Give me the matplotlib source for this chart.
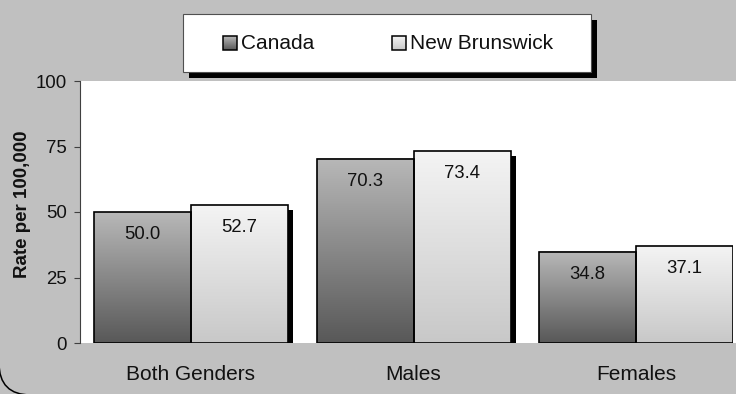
import numpy as np
import matplotlib.pyplot as plt
from matplotlib.colors import LinearSegmentedColormap
from matplotlib.patches import Rectangle, FancyBboxPatch

plt.rcParams['font.family'] = ['Liberation Sans', 'DejaVu Sans']

# data
categories = ['Both Genders', 'Males', 'Females']
series_names = ['Canada', 'New Brunswick']
canada = [50.0, 70.3, 34.8]
new_brunswick = [52.7, 73.4, 37.1]
y_ticks = [0, 25, 50, 75, 100]
title = 'Rates by Gender, Canada and New Brunswick (2005)'

W, H = 736, 394
BG = '#c0c0c0'

# vertical gradients, bottom colour -> top colour
cmaps = [
    LinearSegmentedColormap.from_list('dark', ['#585858', '#b8b8b8']),
    LinearSegmentedColormap.from_list('light', ['#c8c8c8', '#f4f4f4']),
]
grad = np.linspace(0, 1, 256).reshape(-1, 1)

fig = plt.figure(figsize=(W / 100, H / 100), dpi=100, facecolor=BG)


def px_box(x0, y0, x1, y1):
    # pixel box (top-left origin) -> figure fraction rect
    return [x0 / W, 1 - y1 / H, (x1 - x0) / W, (y1 - y0) / H]


# white plot background reaching the right edge
fig.add_artist(Rectangle((80 / W, 1 - 343 / H), 1, 262 / H,
                         transform=fig.transFigure, facecolor='white',
                         edgecolor='none', zorder=-1))

ax = fig.add_axes(px_box(80, 81, 733, 343))
ax.set_facecolor('white')

slot = 222.5
x = np.arange(len(categories))
bw = 97 / slot
dx_shadow = 5 / slot
dy_shadow = 5 / 262 * 100

groups = [canada, new_brunswick]
offsets = [-bw / 2, bw / 2]

# shadows first
for vals, off in zip(groups, offsets):
    for xi, v in zip(x, vals):
        ax.add_patch(Rectangle((xi + off - bw / 2 + dx_shadow, 0), bw, v - dy_shadow,
                               facecolor='black', edgecolor='none', zorder=1))

for vals, off, cm in zip(groups, offsets, cmaps):
    for xi, v in zip(x, vals):
        x0 = xi + off - bw / 2
        ax.imshow(grad, cmap=cm, origin='lower', aspect='auto',
                  extent=[x0, x0 + bw, 0, v], zorder=2, interpolation='bilinear')
        ax.add_patch(Rectangle((x0, 0), bw, v, facecolor='none',
                               edgecolor='black', linewidth=1.2, zorder=3))
        ax.annotate(f'{v:.1f}', (xi + off, v), xytext=(0, -16.5),
                    textcoords='offset points', ha='center', va='center',
                    fontsize=13.3, color='#111111', zorder=4)

ax.set_xlim((80 - 191) / slot, (733 - 191) / slot)
ax.set_ylim(0, 100)

for s in ['top', 'right', 'bottom']:
    ax.spines[s].set_visible(False)
ax.spines['left'].set_color('#404040')
ax.spines['left'].set_linewidth(0.8)

ax.set_yticks(y_ticks)
ax.tick_params(axis='y', direction='out', length=4.3, width=0.8,
               color='#404040', pad=5, labelsize=13.4, labelcolor='#111111')
ax.set_xticks(x)
ax.set_xticklabels(categories)
ax.tick_params(axis='x', length=0, pad=16, labelsize=15, labelcolor='#111111')

fig.text(23 / W, 1 - 204.5 / H, 'Rate per 100,000', rotation=90,
         ha='center', va='center', fontsize=13.5, fontweight='bold',
         color='#111111')

# overlay in pixel coordinates for legend, title and frame
ov = fig.add_axes([0, 0, 1, 1], zorder=5)
ov.set_xlim(0, W)
ov.set_ylim(H, 0)
ov.axis('off')
ov.patch.set_alpha(0)

ov.text(92, -4, title, ha='left', va='baseline', fontsize=15,
        fontweight='bold', color='#111111')

# legend box with drop shadow
ov.add_patch(Rectangle((189, 20), 408, 58, facecolor='black', edgecolor='none'))
ov.add_patch(Rectangle((183, 14), 408, 58, facecolor='white',
                       edgecolor='#505050', linewidth=0.8))
legend_x = [223, 392]
for lx, name, cm in zip(legend_x, series_names, cmaps):
    ov.imshow(grad, cmap=cm, origin='lower', aspect='auto',
              extent=[lx, lx + 14, 50, 36], zorder=6)
    ov.add_patch(Rectangle((lx, 36), 14, 14, facecolor='none',
                           edgecolor='black', linewidth=1.1, zorder=7))
    ov.text(lx + 18, 43.5, name, ha='left', va='center', fontsize=15,
            color='#111111')
ov.set_xlim(0, W)
ov.set_ylim(H, 0)

# rounded chart frame, only its lower-left corner falls inside the canvas
ov.add_patch(FancyBboxPatch((-1, -60), 900, 455,
                            boxstyle='round,pad=0,rounding_size=32',
                            facecolor='none', edgecolor='black', linewidth=1.1))

fig.savefig('out.png', dpi=100, facecolor=BG)
